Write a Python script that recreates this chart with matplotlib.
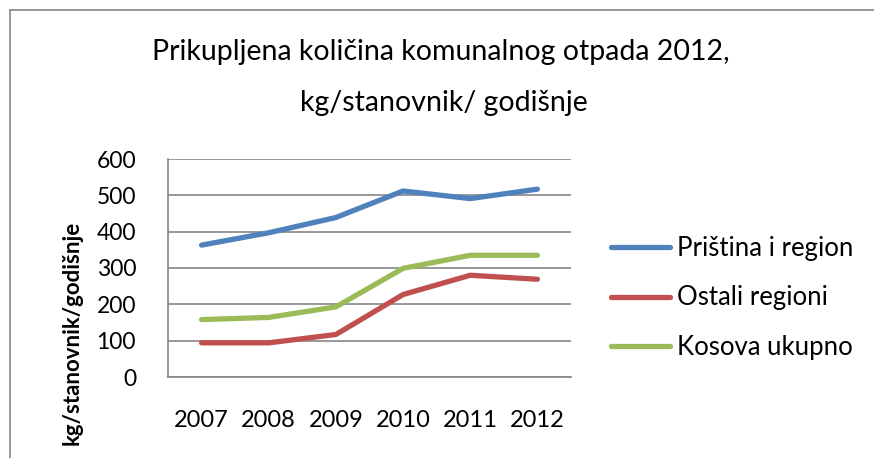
import matplotlib
matplotlib.use("Agg")
import matplotlib.pyplot as plt
from matplotlib.lines import Line2D

years = ["2007", "2008", "2009", "2010", "2011", "2012"]
pristina = [363, 397, 439, 512, 491, 517]
ostali = [94, 94, 117, 227, 280, 269]
kosova = [158, 164, 193, 299, 335, 335]
series_names = ["Priština i region", "Ostali regioni", "Kosova ukupno"]
colors = ["#4F81BD", "#C0504D", "#9BBB59"]
yticks = [0, 100, 200, 300, 400, 500, 600]

plt.rcParams['font.family'] = ['Lato', 'DejaVu Sans']

W, H = 874, 458
fig = plt.figure(figsize=(W / 100, H / 100), dpi=100)
ax = fig.add_axes([168 / W, 1 - 377 / H, 403 / W, 218 / H])

x = list(range(len(years)))
for vals, c, n in zip([pristina, ostali, kosova], colors, series_names):
    ax.plot(x, vals, color=c, lw=3.8, solid_capstyle='round', solid_joinstyle='round', label=n)

ax.set_xlim(-0.5, len(years) - 0.5)
ax.set_ylim(0, 600)
ax.set_yticks(yticks)
ax.set_xticks(x)
ax.set_xticklabels(years)
ax.tick_params(axis='both', length=0, colors='black')
ax.tick_params(axis='y', pad=23, labelsize=16.5)
ax.tick_params(axis='x', pad=24, labelsize=17)
ax.yaxis.grid(True, color='#868686', lw=1.2)
ax.set_axisbelow(True)
for s in ['top', 'right']:
    ax.spines[s].set_visible(False)
for s in ['left', 'bottom']:
    ax.spines[s].set_color('#868686')
    ax.spines[s].set_linewidth(1.2)

fig.text(441 / W, 1 - 52 / H, "Prikupljena količina komunalnog otpada 2012,",
         ha='center', va='center', fontsize=20.5)
fig.text(444 / W, 1 - 103 / H, "kg/stanovnik/ godišnje",
         ha='center', va='center', fontsize=20.5)
fig.text(72 / W, 1 - 333 / H, "kg/stanovnik/godišnje", rotation=90,
         ha='center', va='center', fontsize=16, fontweight='bold')

handles = [Line2D([0], [0], color=c, lw=3.8, solid_capstyle='round') for c in colors]
fs = 18.5
leg = fig.legend(handles, series_names, loc='center left',
                 bbox_to_anchor=(601 / W, 1 - 298 / H), frameon=False,
                 fontsize=fs, handlelength=2.3, handletextpad=0.25,
                 labelspacing=0.95, borderpad=0.4, borderaxespad=0)

# outer chart border (partial, as in the crop)
fig.add_artist(Line2D([10 / W, 1], [1 - 10 / H, 1 - 10 / H], color='#868686', lw=1.2,
                      transform=fig.transFigure))
fig.add_artist(Line2D([10 / W, 10 / W], [0, 1 - 10 / H], color='#868686', lw=1.2,
                      transform=fig.transFigure))

fig.savefig("out.png", dpi=100)
